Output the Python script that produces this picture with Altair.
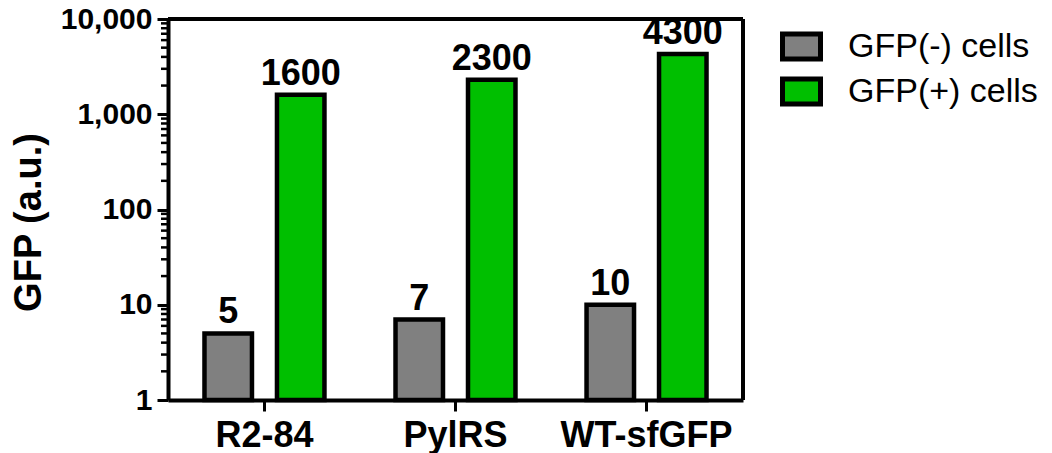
import altair as alt
import pandas as pd

# Data
constructs = ["R2-84", "PylRS", "WT-sfGFP"]
series = ["GFP(-) cells", "GFP(+) cells"]
gfp_neg = [5, 7, 10]
gfp_pos = [1600, 2300, 4300]
y_ticks = [1, 10, 100, 1000, 10000]
decades = [1, 10, 100, 1000]
colors = ["#808080", "#00BF00"]

rows = []
for i, c in enumerate(constructs):
    rows.append({"construct": c, "cells": series[0], "gfp": gfp_neg[i]})
    rows.append({"construct": c, "cells": series[1], "gfp": gfp_pos[i]})
df = pd.DataFrame(rows)

# minor log ticks (2..9 within each decade)
minor_ticks = [float(m * d) for d in decades for m in range(2, 10)]
minor_df = pd.DataFrame({"v": minor_ticks})

FONT = "Liberation Sans"
GUTTER = 7          # strip left of the y axis line that holds the minor ticks
W, H = 582, 381     # GUTTER + 575 px of plotting area

x_scale = alt.Scale(range=[GUTTER, W], paddingInner=0.372, paddingOuter=0.191)
xoff_scale = alt.Scale(paddingInner=0.345, paddingOuter=0)
y_scale = alt.Scale(type="log", domain=[1, 10000], nice=False)

x_axis = alt.Axis(
    title=None, labelAngle=0, labelFont=FONT, labelFontSize=36, labelFontWeight="bold",
    labelColor="black", domainColor="black", domainWidth=4, tickColor="black",
    tickWidth=3, tickSize=11, labelPadding=7, grid=False,
)
y_axis = alt.Axis(
    title="GFP (a.u.)", values=y_ticks, format=",", labelFont=FONT, labelFontSize=30,
    labelFontWeight="bold", labelColor="black", domainColor="black", domainWidth=4,
    tickColor="black", tickWidth=3, tickSize=11, labelPadding=5, grid=False,
    titleFont=FONT, titleFontSize=38, titleFontWeight="bold", titleColor="black",
    titlePadding=12, titleY=203, offset=-GUTTER, zindex=2,
)

x_enc = alt.X("construct:N", sort=constructs, scale=x_scale, axis=x_axis)
xoff_enc = alt.XOffset("cells:N", sort=series, scale=xoff_scale)

bars = alt.Chart(df).mark_bar(stroke="black", strokeWidth=4.5).encode(
    x=x_enc,
    xOffset=xoff_enc,
    y=alt.Y("gfp:Q", scale=y_scale, axis=y_axis),
    y2=alt.datum(1),
    fill=alt.Fill(
        "cells:N",
        scale=alt.Scale(domain=series, range=colors),
        legend=alt.Legend(
            title=None, orient="none", legendX=619, legendY=5, direction="vertical",
            symbolType="M-1,-0.658L1,-0.658L1,0.658L-1,0.658Z", symbolSize=1444,
            symbolStrokeWidth=5, symbolStrokeColor="black", symbolOpacity=1,
            labelFont=FONT, labelFontSize=34, labelColor="black", labelOffset=25,
            labelLimit=0, clipHeight=45, rowPadding=0, padding=0,
        ),
    ),
)

labels = alt.Chart(df).mark_text(
    font=FONT, fontSize=36, fontWeight="bold", color="black", baseline="alphabetic", dy=-10
).encode(
    x=x_enc,
    xOffset=xoff_enc,
    y=alt.Y("gfp:Q", scale=y_scale, axis=y_axis),
    text=alt.Text("gfp:Q", format="d"),
)

# short minor ticks in the gutter, ending on the y axis line
minor = alt.Chart(minor_df).mark_rule(color="black", strokeWidth=2.5).encode(
    y=alt.Y("v:Q", scale=y_scale, axis=y_axis),
    x=alt.value(0),
    x2=alt.value(GUTTER),
)

# thin top and right frame lines
frame_top = alt.Chart(minor_df).mark_rule(color="black", strokeWidth=2.5).encode(
    x=alt.value(GUTTER), x2=alt.value(W), y=alt.value(0)
)
frame_right = alt.Chart(minor_df).mark_rule(color="black", strokeWidth=2.5).encode(
    x=alt.value(W), y=alt.value(0), y2=alt.value(H)
)

chart = (
    alt.layer(bars, labels, minor, frame_top, frame_right)
    .properties(
        width=W,
        height=H,
        autosize=alt.AutoSizeParams(type="none"),
        padding={"left": 168 - GUTTER, "top": 19, "right": 1052 - (168 - GUTTER) - W,
                 "bottom": 453 - 19 - H},
        background="white",
    )
    .configure_view(strokeWidth=0)
)

chart.save("out.html", embed_options={"renderer": "svg", "actions": False})
